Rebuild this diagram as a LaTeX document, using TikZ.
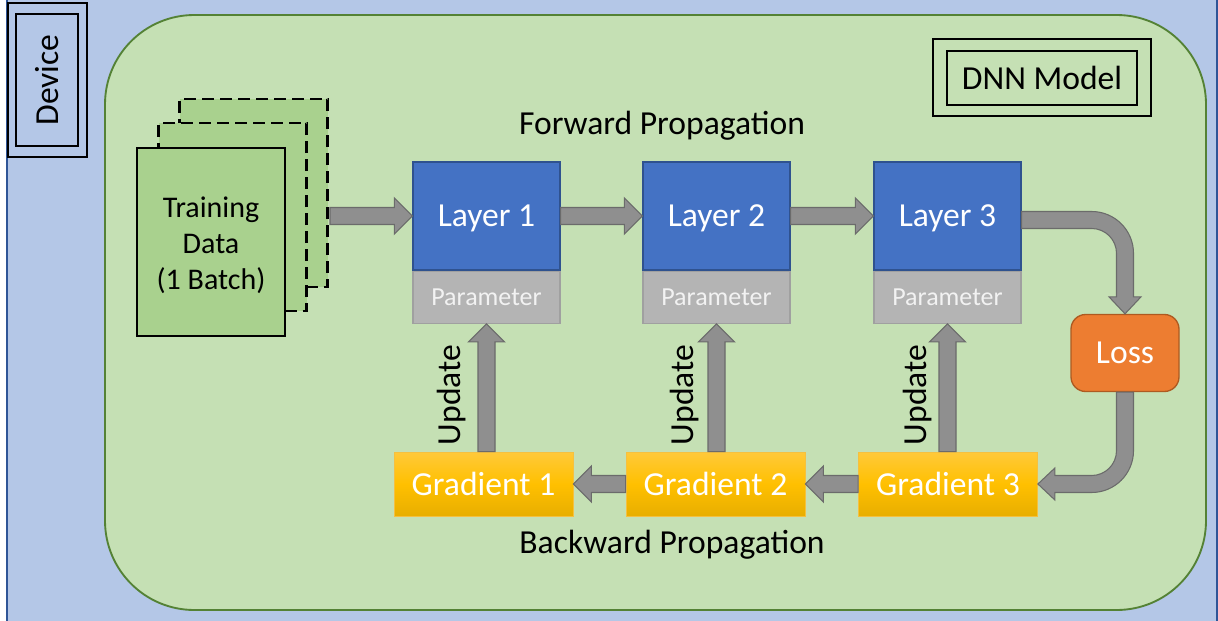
\documentclass[tikz,border=0pt]{standalone}
\usepackage{fontspec}
\setmainfont{Carlito}
\usetikzlibrary{calc}
\definecolor{bgblue}{HTML}{B4C7E7}
\definecolor{bgblueline}{HTML}{2F5597}
\definecolor{modelgreen}{HTML}{C5E0B4}
\definecolor{modelline}{HTML}{548235}
\definecolor{datagreen}{HTML}{A9D18E}
\definecolor{layerblue}{HTML}{4472C4}
\definecolor{layerline}{HTML}{2F528F}
\definecolor{paramgray}{HTML}{B4B4B4}
\definecolor{paramline}{HTML}{A0A0A0}
\definecolor{lossorange}{HTML}{ED7D31}
\definecolor{lossline}{HTML}{AE5A21}
\definecolor{gradtop}{HTML}{FFC93A}
\definecolor{gradmid}{HTML}{FFC000}
\definecolor{gradbot}{HTML}{E8AE00}
\definecolor{gradline}{HTML}{F5C040}
\definecolor{arrowgray}{HTML}{8F8F8F}
\definecolor{arrowdark}{HTML}{6B6B6B}
\def\sh{6.375pt}
\def\hw{13.5pt}
\def\hl{13.5pt}
\def\rr{25pt}
\newcommand\arrR[2]{\path[barrow] let \p1=(#1), \p2=(#2) in (\x1,\y2+\sh) -- (\x2-\hl,\y2+\sh) -- (\x2-\hl,\y2+\hw) -- (\x2,\y2) -- (\x2-\hl,\y2-\hw) -- (\x2-\hl,\y2-\sh) -- (\x1,\y2-\sh) -- cycle;}
\newcommand\arrL[2]{\path[barrow] let \p1=(#1), \p2=(#2) in (\x1,\y2+\sh) -- (\x2+\hl,\y2+\sh) -- (\x2+\hl,\y2+\hw) -- (\x2,\y2) -- (\x2+\hl,\y2-\hw) -- (\x2+\hl,\y2-\sh) -- (\x1,\y2-\sh) -- cycle;}
\newcommand\arrU[2]{\path[barrow] let \p1=(#1), \p2=(#2) in (\x2+\sh,\y1) -- (\x2+\sh,\y2-\hl) -- (\x2+\hw,\y2-\hl) -- (\x2,\y2) -- (\x2-\hw,\y2-\hl) -- (\x2-\sh,\y2-\hl) -- (\x2-\sh,\y1) -- cycle;}
\tikzset{
  barrow/.style={fill=arrowgray, draw=arrowdark, line width=0.8pt, line join=miter},
  big/.style={font=\fontsize{25.2}{30}\selectfont},
  layerbox/.style={draw=layerline, fill=layerblue, line width=0.9pt, minimum width=110.25pt, minimum height=81pt, text=white, big, inner sep=0pt, text depth=0pt},
  parambox/.style={draw=paramline, fill=paramgray, line width=0.9pt, minimum width=110.25pt, minimum height=39pt, text=white!95!black, font=\fontsize{19.5}{23}\selectfont, inner sep=0pt, anchor=north},
  gradbox/.style={draw=gradline, line width=0.6pt, top color=gradtop, bottom color=gradbot, middle color=gradmid, minimum width=134.25pt, minimum height=48pt, text=white, big, inner sep=0pt},
  pagebox/.style={fill=datagreen, minimum width=111pt, minimum height=141pt, inner sep=0pt},
  dashedpage/.style={pagebox, draw=black, line width=1.8pt, dash pattern=on 9pt off 4.5pt},
  blackframe/.style={draw=black, line width=1.2pt, inner sep=0pt},
  plainlabel/.style={big, text=black, inner sep=0pt}
}
\begin{document}
\begin{tikzpicture}[x=0.75pt, y=-0.75pt]
\useasboundingbox (0,0) rectangle (1218,621);
% device background
\path[fill=bgblue, draw=bgblueline, line width=1.5pt] (7,-5) rectangle (1217,626);
% Device label
\node[blackframe, minimum width=59.25pt, minimum height=115.5pt] (devout) at (47.5,80) {};
\node[blackframe, rotate=90, minimum width=99pt, minimum height=46.5pt, big] (dev) at (47,80) {Device};
% DNN model container
\path[fill=modelgreen, draw=modelline, line width=1.4pt, rounded corners=67pt] (105,15) rectangle (1206,610);
\node[blackframe, minimum width=163.5pt, minimum height=57.75pt] (dnnout) at (1042,77.5) {};
\node[blackframe, minimum width=142.5pt, minimum height=40.5pt, big] (dnn) at (1042,78) {DNN Model};
% training data pages
\node[dashedpage] (page3) at (253.5,193) {};
\node[dashedpage] (page2) at (232.5,217) {};
\node[pagebox, draw=black, line width=1.6pt, align=center, font=\fontsize{22.5}{27}\selectfont] (data) at (211,242) {\rule{0pt}{20pt}Training\\Data\\(1 Batch)};
% layers
\node[layerbox] (l1) at (486.5,216) {Layer 1};
\node[layerbox] (l2) at (716.5,216) {Layer 2};
\node[layerbox] (l3) at (947.5,216) {Layer 3};
\node[parambox] (p1) at (l1.south) {Parameter};
\node[parambox] (p2) at (l2.south) {Parameter};
\node[parambox] (p3) at (l3.south) {Parameter};
% loss
\node[draw=lossline, fill=lossorange, line width=1pt, rounded corners=11pt, minimum width=81pt, minimum height=57.75pt, text=white, big, inner sep=0pt] (loss) at (1125,353) {Loss};
% gradients
\node[gradbox] (g1) at (483.5,484) {Gradient 1};
\node[gradbox] (g2) at (715.5,484) {Gradient 2};
\node[gradbox] (g3) at (948,484) {Gradient 3};
% labels
\node[plainlabel] (fwd) at (662,126) {Forward Propagation};
\node[plainlabel] (bwd) at (672,545) {Backward Propagation};
\node[plainlabel, rotate=90] (u1) at (452,395) {Update};
\node[plainlabel, rotate=90] (u2) at (685,395) {Update};
\node[plainlabel, rotate=90] (u3) at (918,395) {Update};
% arrows
\coordinate (dtail) at (330,216);
\arrR{dtail}{l1.west}
\arrR{l1.east}{l2.west}
\arrR{l2.east}{l3.west}
\arrL{g2.west}{g1.east}
\arrL{g3.west}{g2.east}
\arrU{g1.north}{p1.south}
\arrU{g2.north}{p2.south}
\arrU{g3.north}{p3.south}
% curved arrow layer 3 -> loss
\path[barrow] let \p1=([yshift=-3pt]l3.east), \p2=(loss.north) in
  (\x1,\y1+\sh) -- (\x2-\rr,\y1+\sh) arc[start angle=90, end angle=0, radius=31.375pt]
  -- (\x2+\sh,\y2+12.75pt) -- (\x2+12pt,\y2+12.75pt) -- (\x2,\y2) -- (\x2-12pt,\y2+12.75pt)
  -- (\x2-\sh,\y2+12.75pt) -- (\x2-\sh,\y1-\rr) arc[start angle=0, end angle=90, radius=18.625pt]
  -- (\x1,\y1-\sh) -- cycle;
% curved arrow loss -> gradient 3
\path[barrow] let \p1=(loss.south), \p2=(g3.east) in
  (\x1+\sh,\y1) -- (\x1+\sh,\y2+\rr) arc[start angle=0, end angle=-90, radius=31.375pt]
  -- (\x2+12.75pt,\y2-\sh) -- (\x2+12.75pt,\y2-12pt) -- (\x2,\y2) -- (\x2+12.75pt,\y2+12pt)
  -- (\x2+12.75pt,\y2+\sh) -- (\x1-\rr,\y2+\sh) arc[start angle=-90, end angle=0, radius=18.625pt]
  -- (\x1-\sh,\y1) -- cycle;
\end{tikzpicture}
\end{document}
